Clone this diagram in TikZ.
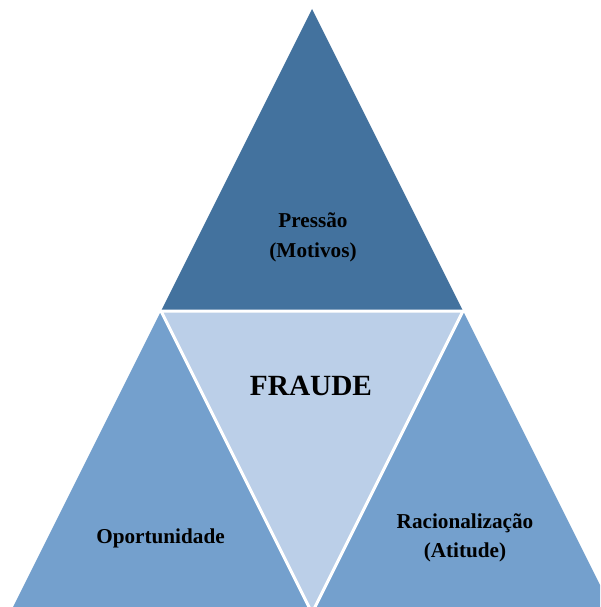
\documentclass[tikz,border=0pt]{standalone}
\usepackage{fontspec}
\setmainfont{Liberation Serif}
\definecolor{topblue}{RGB}{67,114,158}
\definecolor{midblue}{RGB}{187,207,232}
\definecolor{sideblue}{RGB}{116,160,205}
\begin{document}
\begin{tikzpicture}[x=1pt,y=-1pt,
  lbl/.style={font=\bfseries\fontsize{21.2}{30}\selectfont,anchor=base,inner sep=0pt},
  big/.style={font=\bfseries\fontsize{29.3}{34}\selectfont,anchor=base,inner sep=0pt}]
\useasboundingbox (0,0) rectangle (600,607);
\clip (0,0) rectangle (600,607);
\coordinate (A) at (312,9);
\coordinate (L) at (161,311);
\coordinate (R) at (463,311);
\coordinate (B) at (312,613);
\coordinate (BL) at (10,613);
\coordinate (BR) at (614,613);
\fill[sideblue] (L) -- (BL) -- (B) -- cycle;
\fill[sideblue] (R) -- (B) -- (BR) -- cycle;
\fill[midblue] (L) -- (R) -- (B) -- cycle;
\fill[topblue] (A) -- (L) -- (R) -- cycle;
\draw[white,line width=3pt] (L) -- (R) -- (B) -- cycle;
\node[lbl] (p1) at (313,227) {Pressão};
\node[lbl] (p2) at (313,257) {(Motivos)};
\node[big] (f) at (311,395) {FRAUDE};
\node[lbl] (o) at (160.5,543) {Oportunidade};
\node[lbl] (r1) at (465,528) {Racionalização};
\node[lbl] (r2) at (465,557) {(Atitude)};
\end{tikzpicture}
\end{document}
